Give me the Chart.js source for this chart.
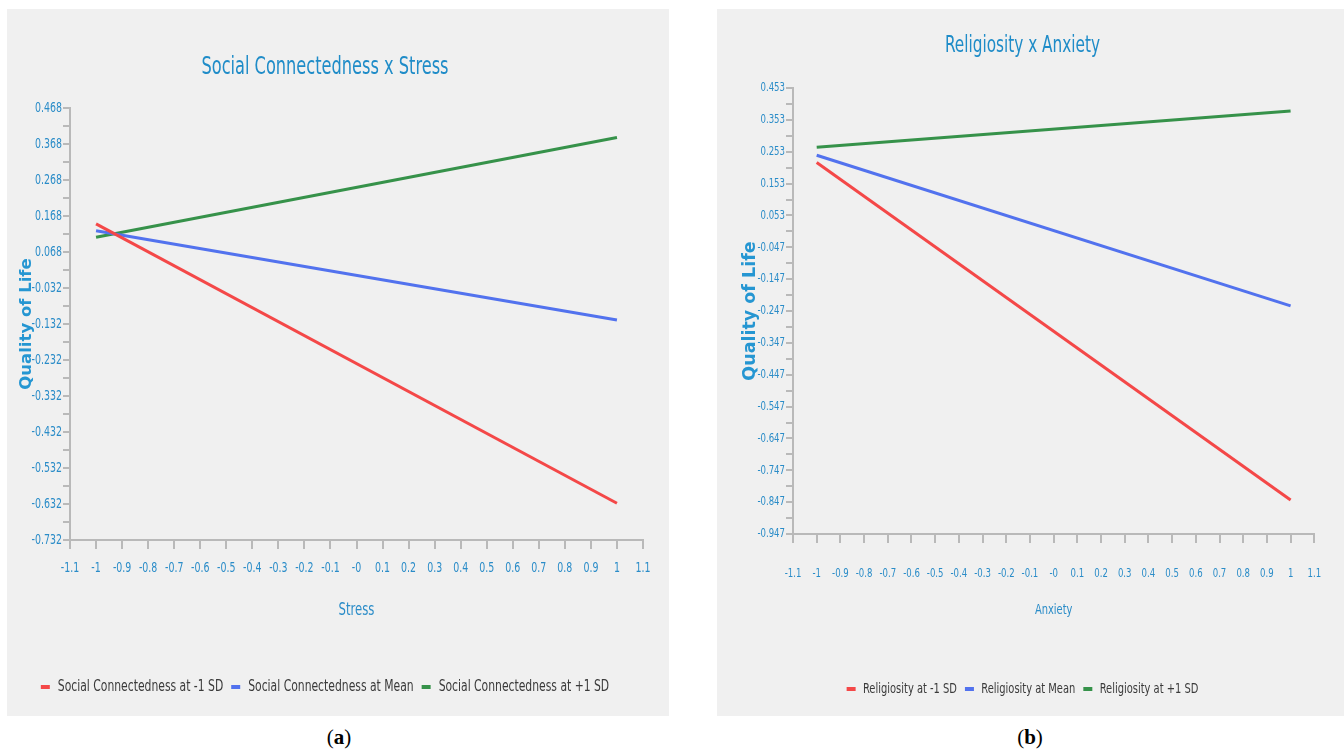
<!DOCTYPE html>
<html><head><meta charset="utf-8">
<script src="https://cdn.jsdelivr.net/npm/chart.js@4.4.1/dist/chart.umd.min.js"></script>
<style>
body{margin:0;background:#fff;width:1344px;height:751px;position:relative;overflow:hidden}
.panel{position:absolute;background:#f0f0f0}
#pa{left:7px;top:9px;width:662px;height:707px}
#pb{left:717px;top:9px;width:627px;height:707px}
.cap{position:absolute;top:727px;line-height:21px;font-family:'Liberation Serif','DejaVu Serif',serif;font-size:21px;color:#000;transform:translateX(-50%);white-space:nowrap}
</style></head><body>
<div class="panel" id="pa"><canvas id="ca" width="662" height="707"></canvas></div>
<div class="panel" id="pb"><canvas id="cb" width="627" height="707"></canvas></div>
<div class="cap" style="left:339px">(<b>a</b>)</div>
<div class="cap" style="left:1030px">(<b>b</b>)</div>
<script>
// ---- data ----
const xEnds = [-1, 1];
const stressLow  = [0.146, -0.630];
const stressMean = [0.127, -0.121];
const stressHigh = [0.109, 0.386];
const anxietyLow  = [0.219, -0.840];
const anxietyMean = [0.242, -0.231];
const anxietyHigh = [0.267, 0.381];
const seriesNamesA = ['Social Connectedness at -1 SD','Social Connectedness at Mean','Social Connectedness at +1 SD'];
const seriesNamesB = ['Religiosity at -1 SD','Religiosity at Mean','Religiosity at +1 SD'];
const xTickValues = [-1.1,-1,-0.9,-0.8,-0.7,-0.6,-0.5,-0.4,-0.3,-0.2,-0.1,0,0.1,0.2,0.3,0.4,0.5,0.6,0.7,0.8,0.9,1,1.1];
const xTickLabels = ['-1.1','-1','-0.9','-0.8','-0.7','-0.6','-0.5','-0.4','-0.3','-0.2','-0.1','-0','0.1','0.2','0.3','0.4','0.5','0.6','0.7','0.8','0.9','1','1.1'];
const yTicksA = [-0.732,-0.632,-0.532,-0.432,-0.332,-0.232,-0.132,-0.032,0.068,0.168,0.268,0.368,0.468];
const yTicksB = [-0.947,-0.847,-0.747,-0.647,-0.547,-0.447,-0.347,-0.247,-0.147,-0.047,0.053,0.153,0.253,0.353,0.453];

const COLORS = ['#f44848','#5272ee','#36924a'];
const NARROW = "'DejaVu Sans Condensed','Liberation Sans Narrow',sans-serif";
const TICK_COLOR = '#2a8cc8';
const TITLE_COLOR = '#1f8cc8';
const AXIS_COLOR = '#b9b9b9';

// Horizontally compressed rendering for the condensed label font (text stays real text).
const SQUEEZE = 0.75;
const MARK = 'DejaVu Sans Condensed';
(function(){
  const P = CanvasRenderingContext2D.prototype;
  const mt = P.measureText, ft = P.fillText;
  P.measureText = function(t){
    const m = mt.call(this, t);
    if (this.font.indexOf(MARK) < 0) return m;
    return {width: m.width*SQUEEZE,
      actualBoundingBoxAscent: m.actualBoundingBoxAscent,
      actualBoundingBoxDescent: m.actualBoundingBoxDescent,
      actualBoundingBoxLeft: m.actualBoundingBoxLeft*SQUEEZE,
      actualBoundingBoxRight: m.actualBoundingBoxRight*SQUEEZE};
  };
  P.fillText = function(t, x, y, w){
    if (this.font.indexOf(MARK) < 0) return (w === undefined) ? ft.call(this, t, x, y) : ft.call(this, t, x, y, w);
    const nat = mt.call(this, t).width*SQUEEZE;
    const mw = (w === undefined || w === null) ? nat : Math.min(w, nat);
    return ft.call(this, t, x, y, mw);
  };
})();

function pts(ys){ return xEnds.map((x,i)=>({x:x,y:ys[i]})); }
function buildY(list){
  const out=[];
  for(let i=0;i<list.length;i++){
    out.push({value:list[i]});
    if(i<list.length-1) out.push({value:(list[i]+list[i+1])/2});
  }
  return out;
}

function makeChart(id, cfg){
  const datasets = cfg.series.map((s,i)=>({
    label: cfg.names[i], data: pts(s), borderColor: COLORS[i], backgroundColor: COLORS[i],
    borderWidth: 3, pointRadius: 0, tension: 0
  }));
  return new Chart(document.getElementById(id), {
    type:'line',
    data:{datasets},
    options:{
      responsive:false, animation:false, devicePixelRatio:1,
      layout:{padding:{left:0,right:cfg.padRight,top:0,bottom:cfg.padBottom}},
      plugins:{
        tooltip:{enabled:false},
        title:{display:true,text:cfg.title,color:TITLE_COLOR,
          font:{family:NARROW,size:cfg.titleSize,weight:'normal'},
          padding:{top:cfg.titleTop,bottom:cfg.titleBottom}},
        legend:{position:'bottom',
          labels:{boxWidth:9,boxHeight:4,padding:8,color:'#3a3a3a',
            font:{family:NARROW,size:cfg.legendSize},
            generateLabels:(chart)=>Chart.defaults.plugins.legend.labels.generateLabels(chart).map(l=>Object.assign(l,{lineWidth:0}))}}
      },
      scales:{
        x:{type:'linear',min:-1.1,max:1.1,
          afterBuildTicks:(s)=>{ s.ticks = xTickValues.map(v=>({value:v})); },
          afterFit:(s)=>{ s.height = cfg.xHeight; },
          ticks:{autoSkip:false,maxRotation:0,minRotation:0,padding:cfg.xTickPad,color:TICK_COLOR,
            font:{family:NARROW,size:cfg.tickSize},
            callback:(v,i)=>xTickLabels[i]},
          grid:{drawOnChartArea:false,drawTicks:true,tickLength:9,color:AXIS_COLOR,lineWidth:2},
          border:{color:AXIS_COLOR,width:2},
          title:{display:true,text:cfg.xTitle,color:TICK_COLOR,font:{family:NARROW,size:cfg.xTitleSize},
            padding:{top:0,bottom:cfg.xTitlePad}}
        },
        y:{type:'linear',min:cfg.yTicks[0],max:cfg.yTicks[cfg.yTicks.length-1],
          afterBuildTicks:(s)=>{ s.ticks = buildY(cfg.yTicks); },
          afterFit:(s)=>{ s.width = cfg.yWidth; },
          ticks:{autoSkip:false,padding:1,color:TICK_COLOR,font:{family:NARROW,size:cfg.tickSize},
            callback:(v,i)=> i%2===0 ? cfg.yTicks[i/2].toFixed(3) : ''},
          grid:{drawOnChartArea:false,drawTicks:true,tickLength:7,color:AXIS_COLOR,lineWidth:2},
          border:{color:AXIS_COLOR,width:2},
          title:{display:true,text:'Quality of Life',color:'#2596d2',
            font:{family:"'DejaVu Sans',sans-serif",size:cfg.yTitleSize,weight:'bold'},
            padding:{top:cfg.yTitlePad,bottom:0}}
        }
      }
    }
  });
}

makeChart('ca',{
  series:[stressLow,stressMean,stressHigh], names:seriesNamesA,
  title:'Social Connectedness x Stress', xTitle:'Stress', yTicks:yTicksA,
  titleSize:24, legendSize:16, tickSize:14, xTitleSize:17.3, yTitleSize:16.5,
  padRight:26, padBottom:11, titleTop:44.6, titleBottom:25.6,
  xHeight:131, xTickPad:11.1, xTitlePad:50.1, yWidth:63, yTitlePad:10.1
});
makeChart('cb',{
  series:[anxietyLow,anxietyMean,anxietyHigh], names:seriesNamesB,
  title:'Religiosity x Anxiety', xTitle:'Anxiety', yTicks:yTicksB,
  titleSize:22.7, legendSize:14.7, tickSize:12.7, xTitleSize:14.7, yTitleSize:17.5,
  padRight:16, padBottom:9.65, titleTop:23.4, titleBottom:28.4,
  xHeight:139.65, xTickPad:22.9, xTitlePad:54.7, yWidth:76, yTitlePad:22.5
});
</script>
</body></html>
